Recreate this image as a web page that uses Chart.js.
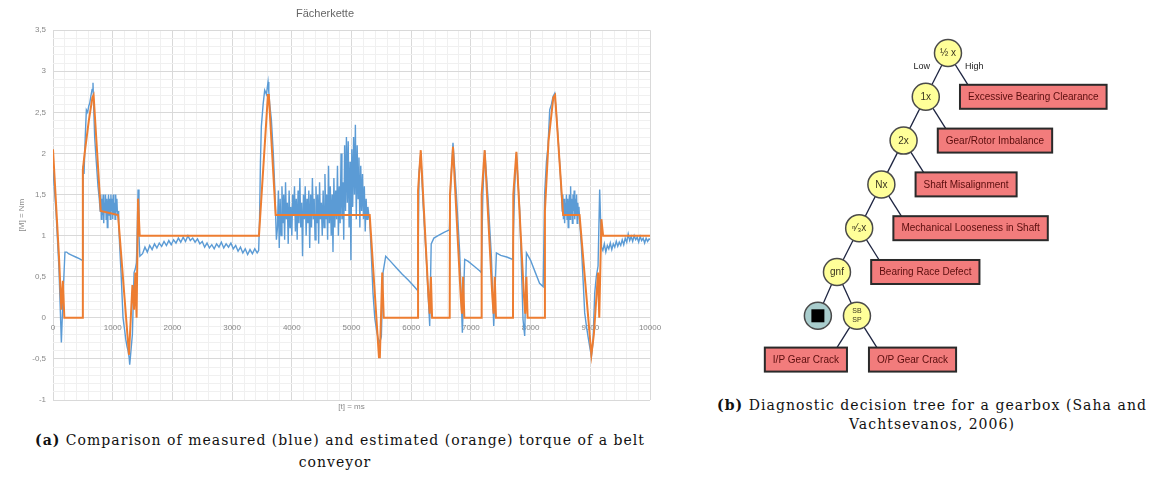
<!DOCTYPE html>
<html>
<head>
<meta charset="utf-8">
<script src="https://cdn.jsdelivr.net/npm/chart.js@4.4.0/dist/chart.umd.min.js"></script>
<style>
html,body{margin:0;padding:0;background:#fff;width:1154px;height:477px;overflow:hidden;position:relative;}
#c1{position:absolute;left:0;top:0;}
#c2{position:absolute;left:700px;top:30px;}
.cap{position:absolute;font-family:"DejaVu Serif","Liberation Serif",serif;font-size:14px;line-height:20px;color:#111;text-align:center;white-space:nowrap;}
</style>
</head>
<body>
<canvas id="c1" width="680" height="420" style="width:680px;height:420px"></canvas>
<canvas id="c2" width="454" height="350" style="width:454px;height:350px"></canvas>
<div class="cap" style="left:35px;width:600px;top:430px"><span id="a1"><b>(a)</b> Comparison of measured (blue) and estimated (orange) torque of a belt</span></div>
<div class="cap" style="left:35px;width:600px;top:452px"><span id="a2">conveyor</span></div>
<div class="cap" style="left:682px;width:500px;top:395px"><span id="b1"><b>(b)</b> Diagnostic decision tree for a gearbox (Saha and</span></div>
<div class="cap" style="left:682px;width:500px;top:414px"><span id="b2">Vachtsevanos, 2006)</span></div>
<script>
// ---------------- left chart data ----------------
const chartTitle = 'Fächerkette';
const xAxisTitle = '[t] = ms';
const yAxisTitle = '[M] = Nm';

const measuredTime = [
  0,50,100,140,170,200,230,260,320,380,440,490,500,505,520,540,559,580,600,615,635,655,670,680,698,720,754,775,
  790,800,810,820,830,840,850,860,870,880,890,900,910,920,930,940,950,960,970,980,990,1000,1010,1020,1030,1040,1050,1060,1070,1080,1090,
  1100,1117,1140,1173,1200,1218,1240,1257,1275,1285,1300,1330,1358,1380,1397,1410,1425,1440,1455,
  1500,1540,1580,1620,1660,1700,1740,1780,1820,1860,1900,1940,1980,2020,2060,2100,2140,2180,2220,2260,2300,2340,2380,2420,2460,2500,2540,2580,2620,2660,2700,2740,2780,2820,2860,2900,2940,2980,3020,3060,3100,3140,3180,3220,3260,3300,3340,3380,3420,3445,
  3460,3475,3490,3520,3546,3575,3602,3615,3630,3658,3690,3714,3742,
  3760,3775,3790,3805,3820,3835,3850,3865,3880,3895,3910,3925,3940,3955,3970,3985,4000,4015,4030,4045,4060,4075,4090,4105,4120,4135,4150,4165,4180,4195,4210,4225,4240,4255,4270,4285,4300,4315,4330,4345,4360,4375,4390,4405,4420,4435,4450,4465,4480,4495,4510,4525,4540,4555,4570,4585,4600,4615,4630,4645,4660,4675,4690,4705,4720,4735,4750,4765,4780,4795,4810,4825,4840,4855,4870,4885,4900,4915,4930,4945,4960,4975,4990,5005,5020,5035,5050,5065,5080,5095,5110,5125,5140,5155,5170,5185,5200,5215,5230,5245,5260,5275,5290,
  5305,5330,5360,5390,5417,5445,5473,5500,5528,5573,
  5650,5750,5850,5950,6050,6110,6131,6160,6198,6255,6310,6335,6380,6450,6550,6640,6660,6700,6757,6812,6857,6896,6950,7050,7150,7175,7200,7231,7287,7343,7382,7427,7500,7600,7700,7734,7762,7818,7873,7901,7930,8000,8080,8150,8210,
  8236,8265,8292,8320,8350,8375,8403,8430,8459,8490,8516,
  8530,8540,8550,8560,8570,8580,8590,8600,8610,8620,8630,8640,8650,8660,8670,8680,8690,8700,8710,8720,8730,8740,8750,8760,8770,8780,8790,8800,8810,8820,
  8851,8880,8906,8935,8962,8990,9018,9045,9074,9100,9130,9157,9186,
  9210,9235,9260,9285,9310,9335,9360,9385,9410,9435,9460,9485,9510,9535,9560,9585,9610,9635,9660,9685,9710,9735,9760,9785,9810,9835,9860,9885,9910,9935,9960,9985,10000
];
const measuredTorque = [
  1.8,1.3,0.6,-0.3,0.3,0.8,0.8,0.78,0.76,0.74,0.72,0.7,1.3,1.85,1.75,2.2,2.53,2.5,2.58,2.61,2.7,2.78,2.86,2.6,2.2,1.95,1.6,1.45,
  1.3,1.5,1.2,1.45,1.25,1.5,1.15,1.4,1.3,1.5,1.2,1.45,1.1,1.35,1.5,1.25,1.45,1.2,1.5,1.3,1.45,1.2,1.5,1.25,1.4,1.2,1.5,1.3,1.45,1.25,1.3,
  1.15,0.87,0.55,0.0,-0.15,-0.26,-0.35,-0.4,-0.48,-0.57,-0.45,-0.2,0.55,0.6,0.67,1.0,1.56,1.0,0.75,
  0.78,0.86,0.8,0.88,0.83,0.9,0.85,0.91,0.87,0.93,0.88,0.94,0.89,0.95,0.91,0.97,0.92,0.98,0.93,1.0,0.94,0.97,0.92,0.96,0.9,0.93,0.86,0.91,0.85,0.89,0.84,0.9,0.86,0.92,0.85,0.9,0.86,0.91,0.84,0.88,0.81,0.86,0.79,0.84,0.77,0.83,0.78,0.84,0.79,0.82,
  1.2,1.9,2.33,2.6,2.77,2.72,2.87,2.75,2.6,2.41,2.0,1.6,0.95,
  1.1,1.55,0.85,1.45,1.0,1.6,1.15,1.5,0.95,1.65,1.2,1.4,0.9,1.55,1.1,1.35,1.0,1.5,1.25,1.6,1.05,1.45,0.95,1.55,1.15,1.7,1.1,1.4,0.75,1.5,1.2,1.6,1.0,1.45,1.15,1.55,0.85,1.5,1.1,1.7,1.2,1.45,0.95,1.6,1.15,1.5,0.9,1.65,1.2,1.4,1.0,1.55,1.1,1.75,1.2,1.5,0.95,1.85,1.15,1.6,1.0,1.5,0.8,1.7,1.1,1.55,1.2,1.85,1.0,1.6,1.15,2.0,1.2,1.65,0.95,2.1,1.3,2.2,1.4,2.15,1.1,1.9,0.7,2.05,1.35,2.2,1.5,2.35,1.2,2.1,1.45,1.95,1.1,1.85,1.3,1.75,1.2,1.6,1.05,1.45,1.2,1.35,1.25,
  1.2,0.8,0.3,0.0,-0.14,-0.25,-0.3,-0.23,0.55,0.75,
  0.69,0.61,0.53,0.46,0.38,0.33,1.77,2.0,1.4,0.7,-0.1,0.9,0.97,1.0,1.04,1.07,1.6,2.13,1.5,0.8,-0.18,0.71,0.69,0.63,0.57,0.55,1.5,2.04,1.45,0.75,-0.1,0.79,0.76,0.74,0.71,1.6,2.0,1.3,-0.02,-0.22,0.79,0.7,0.55,0.42,0.38,
  1.52,1.9,2.09,2.53,2.6,2.69,2.73,2.5,2.2,1.85,1.52,
  1.3,1.5,1.2,1.45,1.15,1.4,1.25,1.5,1.2,1.45,1.1,1.35,1.5,1.2,1.6,1.25,1.45,1.15,1.5,1.3,1.55,1.2,1.45,1.25,1.5,1.15,1.4,1.25,1.35,1.2,
  0.87,0.45,0.06,-0.1,-0.23,-0.35,-0.47,-0.3,0.3,0.5,0.63,1.56,0.86,
  0.82,0.9,0.8,0.88,0.84,0.91,0.83,0.9,0.86,0.93,0.87,0.92,0.88,0.95,0.89,0.97,0.92,1.02,0.94,0.99,0.93,1.0,0.95,0.98,0.92,0.99,0.94,0.97,0.91,0.97,0.93,0.96,0.95
];
const estimatedTime = [0,100,140,165,190,500,500,530,600,660,680,800,1090,1273,1330,1358,1380,1400,1425,1452,3450,3600,3615,3730,5305,5460,5475,5515,5540,6115,6115,6160,6290,6310,6330,6350,6645,6650,6700,6830,6850,6870,6890,7175,7180,7231,7360,7380,7400,7420,7705,7710,7762,7890,7910,7930,7950,8235,8240,8300,8380,8410,8545,8820,9018,9060,9130,9150,9186,9214,10000];
const estimatedTorque = [2.05,0.75,0.1,0.45,0,0,1.8,2.0,2.4,2.68,2.71,1.3,1.25,-0.45,0.4,0.1,0.55,0,1.45,1.0,1.0,2.71,2.71,1.25,1.25,-0.48,-0.48,0.55,0,0,1.55,2.04,0.25,0.05,0.5,0,0,1.5,2.08,0.25,0.05,0.5,0,0,1.5,2.04,0.25,0.05,0.5,0,0,1.5,2.02,0.25,0.05,0.5,0,0,1.3,2.15,2.68,2.71,1.25,1.25,-0.45,-0.2,0.55,0,1.2,1.0,1.0];

// ---------------- right diagram data ----------------
const nodeLabels = ['½ x','1x','2x','Nx','ⁿ⁄₃x','gnf','','SB\nSP'];
const nodeKind   = ['test','test','test','test','test','test','stop','test'];
const nodeCol    = [0,-1,-2,-3,-4,-5,-5.86,-4.1];
const nodeLevel  = [0,1,2,3,4,5,6,6];
const nodeParent = [-1,0,1,2,3,4,5,5];
const leafLabels = ['Excessive Bearing Clearance','Gear/Rotor Imbalance','Shaft Misalignment','Mechanical Looseness in Shaft','Bearing Race Defect','I/P Gear Crack','O/P Gear Crack'];
const leafParent = [0,1,2,3,4,7,7];
const leafSide   = ['high','high','high','high','high','low','high'];
const branchLabels = ['Low','High'];

function pairs(xs, ys){ const n=Math.min(xs.length, ys.length); const out=[]; for(let i=0;i<n;i++) out.push({x:xs[i], y:ys[i]}); return out; }

const MAJOR = '#d9d9d9', MINOR = '#f0f0f0';
const tickFont = {family:'"Liberation Sans", Arial, sans-serif', size:8};

new Chart(document.getElementById('c1'), {
  type:'line',
  data:{datasets:[
    {label:'estimated', data:pairs(estimatedTime, estimatedTorque), borderColor:'#ED7D31', borderWidth:2, pointRadius:0, tension:0, order:0},
    {label:'measured', data:pairs(measuredTime, measuredTorque), borderColor:'#5B9BD5', borderWidth:1.4, pointRadius:0, tension:0, order:1}
  ]},
  options:{
    responsive:false, animation:false, events:[],
    layout:{padding:{left:0,right:30,top:0,bottom:0}},
    plugins:{
      legend:{display:false}, tooltip:{enabled:false},
      title:{display:true, text:chartTitle, color:'#666', font:{family:'"Liberation Sans", Arial, sans-serif', size:11, weight:'normal'}, padding:{top:7,bottom:10}}
    },
    scales:{
      x:{type:'linear', min:0, max:10000, position:{y:0},
         ticks:{stepSize:200, autoSkip:false, maxRotation:0, color:'#888', font:tickFont, padding:5,
                callback:(v)=> (Math.round(v)%1000===0 ? String(Math.round(v)) : '')},
         grid:{drawTicks:false, color:(c)=> (c.tick && Math.round(c.tick.value)%1000===0 ? MAJOR : MINOR), lineWidth:1},
         border:{display:false}},
      xt:{type:'linear', axis:'x', position:'bottom', min:0, max:10000,
          ticks:{display:false}, grid:{display:false, drawTicks:false}, border:{display:false},
          title:{display:true, text:xAxisTitle, color:'#888', font:tickFont, padding:{top:0,bottom:8}},
          afterFit:(s)=>{ s.height = 20; }},
      y:{type:'linear', min:-1, max:3.5, position:'left',
         ticks:{stepSize:0.1, autoSkip:false, color:'#888', font:tickFont, padding:7,
                callback:(v)=>{ const r=Math.round(v*10)/10; return Math.abs(r*2-Math.round(r*2))<1e-9 ? String(r).replace('.',',') : ''; }},
         grid:{drawTicks:false, color:(c)=>{ if(!c.tick) return MINOR; const r=c.tick.value*2; return Math.abs(r-Math.round(r))<1e-6 ? MAJOR : MINOR; }},
         border:{display:false},
         title:{display:true, text:yAxisTitle, color:'#888', font:tickFont, padding:{top:17,bottom:0}},
         afterFit:(s)=>{ s.width = 53; }}
    }
  }
});

// ---------------- decision tree ----------------
const treePlugin = {
  id:'treePlugin',
  beforeDatasetsDraw(chart){
    const {ctx, scales:{x, y}} = chart;
    const px = i => x.getPixelForValue(nodeCol[i]);
    const py = i => y.getPixelForValue(nodeLevel[i]);
    const line = (x1,y1,x2,y2)=>{ ctx.beginPath(); ctx.moveTo(x1,y1); ctx.lineTo(x2,y2); ctx.stroke(); };
    ctx.save();
    ctx.strokeStyle='#1d2440'; ctx.lineWidth=1.3;
    nodeParent.forEach((p,i)=>{ if(p>=0) line(px(p),py(p),px(i),py(i)); });
    ctx.font='10px "Liberation Sans", Arial, sans-serif';
    leafLabels.forEach((lab,i)=>{
      const p = leafParent[i];
      const cx = px(p), cy = py(p);
      const by = y.getPixelForValue(nodeLevel[p]+1);
      const w = ctx.measureText(lab).width + 16, h = 24;
      const left = leafSide[i]==='high' ? cx+12 : cx-10-w;
      const top = by - h/2;
      const ax = leafSide[i]==='high' ? left+8 : left+w-10;
      ctx.strokeStyle='#1d2440'; ctx.lineWidth=1.3;
      line(cx,cy,ax,top);
      ctx.fillStyle='#f27c7c'; ctx.fillRect(left,top,w,h);
      ctx.strokeStyle='#2a2a2a'; ctx.lineWidth=2; ctx.strokeRect(left,top,w,h);
      ctx.fillStyle='#5a0d0d'; ctx.textAlign='center'; ctx.textBaseline='middle';
      ctx.fillText(lab, left+w/2, top+h/2+0.5);
    });
    ctx.restore();
  },
  afterDatasetsDraw(chart){
    const {ctx, scales:{x, y}} = chart;
    ctx.save();
    ctx.textAlign='center'; ctx.textBaseline='middle';
    nodeLabels.forEach((lab,i)=>{
      const cx = x.getPixelForValue(nodeCol[i]), cy = y.getPixelForValue(nodeLevel[i]);
      if(nodeKind[i]==='stop'){ ctx.fillStyle='#000'; ctx.fillRect(cx-6.5,cy-6.5,13,13); return; }
      ctx.fillStyle='#3a3520';
      const parts = lab.split('\n');
      if(parts.length>1){
        ctx.font='7px "Liberation Sans", "DejaVu Sans", sans-serif';
        ctx.fillText(parts[0], cx, cy-4.5); ctx.fillText(parts[1], cx, cy+4.5);
      } else {
        ctx.font='10px "Liberation Sans", "DejaVu Sans", sans-serif';
        ctx.fillText(lab, cx, cy+0.5);
      }
    });
    const rx = x.getPixelForValue(nodeCol[0]), ry = y.getPixelForValue(nodeLevel[0]);
    ctx.font='9px "Liberation Sans", Arial, sans-serif'; ctx.fillStyle='#222';
    ctx.textAlign='right'; ctx.fillText(branchLabels[0], rx-18, ry+14);
    ctx.textAlign='left'; ctx.fillText(branchLabels[1], rx+17, ry+14);
    ctx.restore();
  }
};

new Chart(document.getElementById('c2'), {
  type:'scatter',
  data:{datasets:[{
    data: pairs(nodeCol, nodeLevel),
    pointRadius:13.5, pointHoverRadius:13.5,
    backgroundColor:(c)=> nodeKind[c.dataIndex]==='stop' ? '#a9cdcd' : '#ffff99',
    borderColor:'#4a4a4a', borderWidth:1.5,
    clip:false
  }]},
  options:{
    responsive:false, animation:false, events:[],
    layout:{padding:0, autoPadding:false},
    plugins:{legend:{display:false}, tooltip:{enabled:false}},
    scales:{
      x:{type:'linear', display:false, min:-11.17, max:9.28},
      y:{type:'linear', display:false, min:-0.525, max:7.466, reverse:true}
    }
  },
  plugins:[treePlugin]
});

// ---------------- caption fitting ----------------
function fit(id, target){ const el=document.getElementById(id); const w=el.getBoundingClientRect().width; const n=el.textContent.length; const ls=(target-w)/n; el.style.letterSpacing=ls+'px'; return ls; }
const lsA = fit('a1', 610); document.getElementById('a2').style.letterSpacing = lsA+'px';
const lsB = fit('b1', 430); document.getElementById('b2').style.letterSpacing = lsB+'px';
</script>
</body>
</html>
